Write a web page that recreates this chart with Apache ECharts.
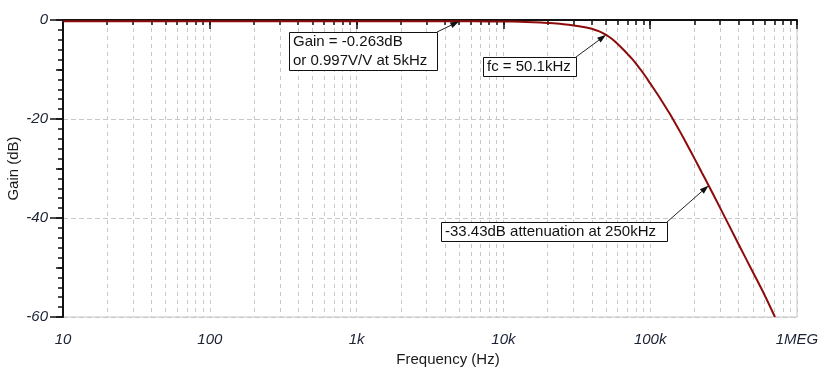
<!DOCTYPE html>
<html><head><meta charset="utf-8">
<script src="https://cdn.jsdelivr.net/npm/echarts@6/dist/echarts.min.js"></script>
<style>html,body{margin:0;padding:0;background:#fff}#c{width:833px;height:375px}</style>
</head><body><div id="c"></div>
<script>
// Frequency response
const freqHz = [10, 100, 1000, 3000, 5000, 8000, 10000, 13000, 16000, 20000, 25000, 30000, 35000, 40000, 45000, 50100, 55000, 60000, 65000, 70000, 75000, 80000, 90000, 100000, 111000, 122000, 135000, 147500, 160000, 180000, 200000, 225000, 250000, 300000, 400000, 500000, 600000, 708000];
const gainDb = [-0.26, -0.26, -0.26, -0.26, -0.263, -0.28, -0.3, -0.35, -0.45, -0.6, -0.8, -1.1, -1.4, -1.75, -2.3, -3.0, -3.85, -4.85, -5.85, -6.85, -7.8, -8.8, -10.8, -12.8, -14.8, -16.7, -18.8, -20.75, -22.6, -25.4, -27.95, -30.85, -33.43, -38.0, -45.3, -50.9, -55.5, -60];
const xDecades = [10, 100, 1000, 10000, 100000, 1000000];
const xDecadeLabels = ['10', '100', '1k', '10k', '100k', '1MEG'];
const annTexts = ['Gain = -0.263dB\nor 0.997V/V at 5kHz', 'fc = 50.1kHz', '-33.43dB attenuation at 250kHz'];
const annFreq = [5000, 50100, 250000];
const annGain = [-0.263, -3.0, -33.43];

const xMinor = [];
for (let d = 10; d < 1000000; d *= 10) for (let m = 1; m <= 9; m++) xMinor.push(d * m);
xMinor.push(1000000);

const FONT = '"Liberation Sans", Arial, sans-serif';
const chart = echarts.init(document.getElementById('c'), null, {renderer: 'canvas'});
const labelMap = {};
xDecades.forEach((v, i) => labelMap[v] = xDecadeLabels[i]);

const option = {
  animation: false,
  backgroundColor: '#fff',
  grid: {left: 63, right: 36, top: 20, bottom: 58, show: true, borderColor: '#c8c8c8', borderWidth: 1,
    containLabel: false, outerBoundsMode: 'none'},
  xAxis: [{
    type: 'log', logBase: 10, min: 10, max: 1000000, position: 'bottom', z: 5,
    name: 'Frequency (Hz)', nameLocation: 'middle', nameGap: 35, nameMoveOverlap: false,
    nameTextStyle: {fontFamily: FONT, fontSize: 15, color: '#1a1a1a', padding: [0, 0, 0, 36]},
    axisLine: {lineStyle: {color: '#111', width: 2}},
    axisTick: {show: true, length: 9, lineStyle: {color: '#111', width: 1.5}, customValues: xDecades},
    axisLabel: {show: true, margin: 15, fontFamily: FONT, fontSize: 15, fontStyle: 'italic', color: '#1c2233',
      customValues: xDecades,
      formatter: v => labelMap[Math.round(v)] || ''},
    splitLine: {show: false}
  }, {
    type: 'log', logBase: 10, min: 10, max: 1000000, position: 'bottom', z: 4,
    axisLine: {show: false},
    axisLabel: {show: false},
    axisTick: {show: true, length: 5, lineStyle: {color: '#111', width: 1.5}, customValues: xMinor},
    splitLine: {show: true, lineStyle: {color: '#c8c8c8', width: 1, type: [4, 4]}}
  }],
  yAxis: [{
    type: 'value', min: -60, max: 0, interval: 20, position: 'left', z: 5,
    name: 'Gain (dB)', nameLocation: 'middle', nameGap: 42, nameRotate: 90, nameMoveOverlap: false,
    nameTextStyle: {fontFamily: FONT, fontSize: 15, color: '#1a1a1a'},
    axisLine: {show: true, lineStyle: {color: '#111', width: 2}},
    axisTick: {show: true, length: 13, lineStyle: {color: '#111', width: 1.5}},
    minorTick: {show: true, splitNumber: 10, length: 5, lineStyle: {color: '#111', width: 1.5}},
    axisLabel: {margin: 15, fontFamily: FONT, fontSize: 15, fontStyle: 'italic', color: '#1c2233'},
    splitLine: {show: true, lineStyle: {color: '#c8c8c8', width: 1, type: [5, 3]}}
  }, {
    type: 'value', min: -60, max: 0, interval: 10, position: 'left', offset: 0, z: 4,
    axisLine: {show: false}, axisLabel: {show: false}, splitLine: {show: false},
    axisTick: {show: true, length: 7, lineStyle: {color: '#111', width: 1.5}}
  }],
  series: [{
    type: 'line', xAxisIndex: 0, yAxisIndex: 0, showSymbol: false, smooth: 0.3, z: 10,
    lineStyle: {color: '#8e0b0b', width: 2},
    data: freqHz.map((f, i) => [f, gainDb[i]])
  }]
};
chart.setOption(option);

// annotation boxes (layout in pixels), arrows pointing at data values
const annBoxes = [[289, 32, 148, 38], [483, 57, 93, 19], [441, 222, 226, 19]];
const g = [];
annTexts.forEach((t, i) => {
  const [bx, by, bw, bh] = annBoxes[i];
  const tip = chart.convertToPixel({xAxisIndex: 0, yAxisIndex: 0}, [annFreq[i], annGain[i]]);
  const sx = bx + bw, sy = by;
  const dx = tip[0] - sx, dy = tip[1] - sy, L = Math.hypot(dx, dy);
  const ux = dx / L, uy = dy / L, px = -uy, py = ux;
  const hl = 9, hw = 3;
  const bxp = tip[0] - ux * hl, byp = tip[1] - uy * hl;
  g.push({type: 'line', z: 20, shape: {x1: sx, y1: sy, x2: bxp, y2: byp}, style: {stroke: '#222', lineWidth: 1}});
  g.push({type: 'polygon', z: 20, shape: {points: [[tip[0], tip[1]], [bxp + px * hw, byp + py * hw], [bxp - px * hw, byp - py * hw]]}, style: {fill: '#111'}});
  g.push({type: 'rect', z: 21, shape: {x: bx + 0.5, y: by + 0.5, width: bw, height: bh}, style: {fill: '#fff', stroke: '#111', lineWidth: 1}});
  const lines = t.split('\n');
  lines.forEach((ln, k) => {
    g.push({type: 'text', z: 22, style: {text: ln, x: bx + 4, y: by + 10 + k * 19, font: '15px ' + FONT, fill: '#111', verticalAlign: 'middle', textAlign: 'left'}});
  });
});
chart.setOption({graphic: g});
</script></body></html>
